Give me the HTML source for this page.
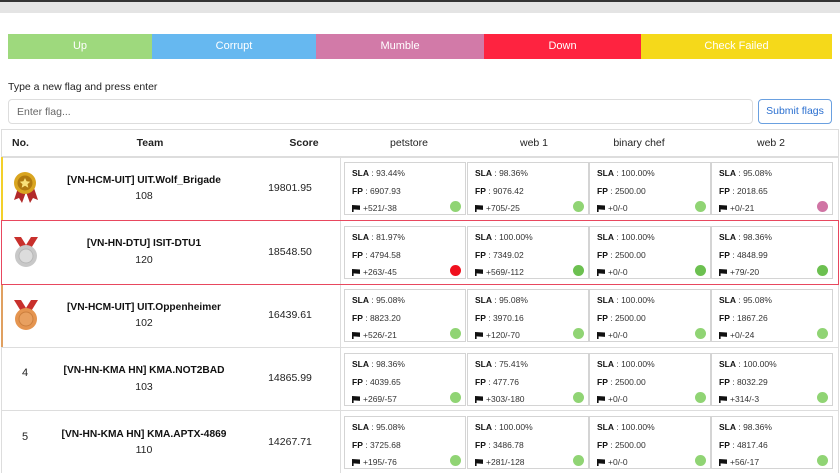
<!DOCTYPE html>
<html><head><meta charset="utf-8"><style>
*{margin:0;padding:0;box-sizing:border-box}
body{width:840px;height:473px;overflow:hidden;background:#fff;font-family:"Liberation Sans",Arial,sans-serif;position:relative;color:#222}
.a{position:absolute}
.seg{position:absolute;top:34px;height:25px;color:#fff;font-size:11px;text-align:center;line-height:25px}
.c{position:absolute;width:122px;height:53px;border:1px solid #d4d4d4;background:#fff;font-size:8.5px;color:#333}
.c b{color:#111}
.c div{position:absolute;left:7px}
.l1{top:5px}.l2{top:23px}.l3{top:40px}
.dot{position:absolute;right:4px;bottom:2px;width:11px;height:11px;border-radius:50%;background:#90d474}
.fl{display:inline-block;width:8px;height:7px;background:#111;vertical-align:-1px;margin-right:3px;clip-path:polygon(0 0,100% 8%,100% 70%,20% 62%,20% 100%,0 100%)}
.hl{position:absolute;left:1px;width:838px;height:1px;background:#ddd}
.team{position:absolute;left:34px;width:220px;text-align:center;font-size:10.2px;font-weight:bold;color:#111}
.num{position:absolute;left:34px;width:220px;text-align:center;font-size:10.5px}
.score{position:absolute;left:240px;width:100px;text-align:center;font-size:10.5px}
.no{position:absolute;left:15px;width:20px;text-align:center;font-size:11px}
.th{position:absolute;top:137px;font-size:10.5px;text-align:center}
</style></head><body>
<div class="a" style="left:0;top:0;width:840px;height:2px;background:#333"></div>
<div class="a" style="left:0;top:2px;width:840px;height:11px;background:#e4e4e4"></div>
<div class="seg" style="left:8px;width:144px;background:#9ed97d">Up</div>
<div class="seg" style="left:152px;width:164px;background:#66b8f0">Corrupt</div>
<div class="seg" style="left:316px;width:168px;background:#d27aa8">Mumble</div>
<div class="seg" style="left:484px;width:157px;background:#fe2340">Down</div>
<div class="seg" style="left:641px;width:191px;background:#f5d91a">Check Failed</div>
<div class="a" style="left:8px;top:81px;font-size:10.5px;color:#222">Type a new flag and press enter</div>
<div class="a" style="left:8px;top:99px;width:745px;height:25px;border:1px solid #ddd;border-radius:4px;font-size:10.5px;color:#666;padding:6px 8px">Enter flag...</div>
<div class="a" style="left:758px;top:99px;width:74px;height:25px;border:1px solid #6aa0e0;border-radius:4px;font-size:10.5px;color:#2a6fd0;text-align:center;line-height:23px">Submit flags</div>
<div class="a" style="left:1px;top:129px;width:838px;height:344px;border:1px solid #ddd;border-bottom:none"></div>
<div class="th" style="left:12px;font-weight:bold">No.</div>
<div class="th" style="left:100px;width:100px;font-weight:bold">Team</div>
<div class="th" style="left:254px;width:100px;font-weight:bold">Score</div>
<div class="th" style="left:359px;width:100px">petstore</div>
<div class="th" style="left:484px;width:100px">web 1</div>
<div class="th" style="left:589px;width:100px">binary chef</div>
<div class="th" style="left:721px;width:100px">web 2</div>
<div class="hl" style="top:156px;height:2px"></div>
<div class="hl" style="top:347px"></div>
<div class="hl" style="top:410px"></div>
<div class="a" style="left:340px;top:157px;width:1px;height:316px;background:#ddd"></div>
<div class="a" style="left:1px;top:157px;width:2px;height:63px;background:#f3d02a"></div>
<div class="a" style="left:1px;top:284px;width:2px;height:63px;background:#e0a060"></div>
<div class="a" style="left:1px;top:220px;width:838px;height:65px;border:1.5px solid #e8485e"></div>

<svg class="a" style="left:12px;top:170px" width="28" height="34" viewBox="0 0 28 34"><path d="M6 18 L2 30 L7 28 L10 33 L14 22Z M22 18 L26 30 L21 28 L18 33 L14 22Z" fill="#b22a2a"/><circle cx="13" cy="13" r="11" fill="#d9a520"/><circle cx="13" cy="13" r="7.5" fill="#b07a10"/><path d="M13 8 l1.6 3.3 3.6.4-2.7 2.4.8 3.6-3.3-1.9-3.3 1.9.8-3.6-2.7-2.4 3.6-.4z" fill="#f8e27a"/></svg>
<svg class="a" style="left:12px;top:236px" width="28" height="34" viewBox="0 0 28 34"><path d="M2 1 L9 1 L14 9 L19 1 L26 1 L18 14 L10 14Z" fill="#c8302c"/><circle cx="14" cy="20" r="11" fill="#c8c8c8"/><circle cx="14" cy="20" r="7" fill="#dcdcdc" stroke="#b8b8b8"/></svg>
<svg class="a" style="left:12px;top:299px" width="28" height="34" viewBox="0 0 28 34"><path d="M2 1 L9 1 L14 9 L19 1 L26 1 L18 14 L10 14Z" fill="#c8302c"/><circle cx="14" cy="20" r="11" fill="#e59550"/><circle cx="14" cy="20" r="7" fill="#e8a060" stroke="#cc7f3e"/></svg>
<div class="no" style="top:367px">4</div>
<div class="no" style="top:431px">5</div>

<div class="team" style="top:175px">[VN-HCM-UIT] UIT.Wolf_Brigade</div><div class="num" style="top:190px">108</div><div class="score" style="top:182px">19801.95</div>
<div class="team" style="top:238px">[VN-HN-DTU] ISIT-DTU1</div><div class="num" style="top:254px">120</div><div class="score" style="top:246px">18548.50</div>
<div class="team" style="top:302px">[VN-HCM-UIT] UIT.Oppenheimer</div><div class="num" style="top:317px">102</div><div class="score" style="top:309px">16439.61</div>
<div class="team" style="top:365px">[VN-HN-KMA HN] KMA.NOT2BAD</div><div class="num" style="top:381px">103</div><div class="score" style="top:372px">14865.99</div>
<div class="team" style="top:429px">[VN-HN-KMA HN] KMA.APTX-4869</div><div class="num" style="top:444px">110</div><div class="score" style="top:436px">14267.71</div>

<div class="c" style="left:344px;top:162px"><div class="l1"><b>SLA</b> : 93.44%</div><div class="l2"><b>FP</b> : 6907.93</div><div class="l3"><span class="fl"></span>+521/-38</div><span class="dot"></span></div>
<div class="c" style="left:467px;top:162px"><div class="l1"><b>SLA</b> : 98.36%</div><div class="l2"><b>FP</b> : 9076.42</div><div class="l3"><span class="fl"></span>+705/-25</div><span class="dot"></span></div>
<div class="c" style="left:589px;top:162px"><div class="l1"><b>SLA</b> : 100.00%</div><div class="l2"><b>FP</b> : 2500.00</div><div class="l3"><span class="fl"></span>+0/-0</div><span class="dot"></span></div>
<div class="c" style="left:711px;top:162px"><div class="l1"><b>SLA</b> : 95.08%</div><div class="l2"><b>FP</b> : 2018.65</div><div class="l3"><span class="fl"></span>+0/-21</div><span class="dot" style="background:#d074a4"></span></div>
<div class="c" style="left:344px;top:226px"><div class="l1"><b>SLA</b> : 81.97%</div><div class="l2"><b>FP</b> : 4794.58</div><div class="l3"><span class="fl"></span>+263/-45</div><span class="dot" style="background:#f0101e"></span></div>
<div class="c" style="left:467px;top:226px"><div class="l1"><b>SLA</b> : 100.00%</div><div class="l2"><b>FP</b> : 7349.02</div><div class="l3"><span class="fl"></span>+569/-112</div><span class="dot" style="background:#6cc050"></span></div>
<div class="c" style="left:589px;top:226px"><div class="l1"><b>SLA</b> : 100.00%</div><div class="l2"><b>FP</b> : 2500.00</div><div class="l3"><span class="fl"></span>+0/-0</div><span class="dot" style="background:#6cc050"></span></div>
<div class="c" style="left:711px;top:226px"><div class="l1"><b>SLA</b> : 98.36%</div><div class="l2"><b>FP</b> : 4848.99</div><div class="l3"><span class="fl"></span>+79/-20</div><span class="dot" style="background:#6cc050"></span></div>
<div class="c" style="left:344px;top:289px"><div class="l1"><b>SLA</b> : 95.08%</div><div class="l2"><b>FP</b> : 8823.20</div><div class="l3"><span class="fl"></span>+526/-21</div><span class="dot"></span></div>
<div class="c" style="left:467px;top:289px"><div class="l1"><b>SLA</b> : 95.08%</div><div class="l2"><b>FP</b> : 3970.16</div><div class="l3"><span class="fl"></span>+120/-70</div><span class="dot"></span></div>
<div class="c" style="left:589px;top:289px"><div class="l1"><b>SLA</b> : 100.00%</div><div class="l2"><b>FP</b> : 2500.00</div><div class="l3"><span class="fl"></span>+0/-0</div><span class="dot"></span></div>
<div class="c" style="left:711px;top:289px"><div class="l1"><b>SLA</b> : 95.08%</div><div class="l2"><b>FP</b> : 1867.26</div><div class="l3"><span class="fl"></span>+0/-24</div><span class="dot"></span></div>
<div class="c" style="left:344px;top:353px"><div class="l1"><b>SLA</b> : 98.36%</div><div class="l2"><b>FP</b> : 4039.65</div><div class="l3"><span class="fl"></span>+269/-57</div><span class="dot"></span></div>
<div class="c" style="left:467px;top:353px"><div class="l1"><b>SLA</b> : 75.41%</div><div class="l2"><b>FP</b> : 477.76</div><div class="l3"><span class="fl"></span>+303/-180</div><span class="dot"></span></div>
<div class="c" style="left:589px;top:353px"><div class="l1"><b>SLA</b> : 100.00%</div><div class="l2"><b>FP</b> : 2500.00</div><div class="l3"><span class="fl"></span>+0/-0</div><span class="dot"></span></div>
<div class="c" style="left:711px;top:353px"><div class="l1"><b>SLA</b> : 100.00%</div><div class="l2"><b>FP</b> : 8032.29</div><div class="l3"><span class="fl"></span>+314/-3</div><span class="dot"></span></div>
<div class="c" style="left:344px;top:416px"><div class="l1"><b>SLA</b> : 95.08%</div><div class="l2"><b>FP</b> : 3725.68</div><div class="l3"><span class="fl"></span>+195/-76</div><span class="dot"></span></div>
<div class="c" style="left:467px;top:416px"><div class="l1"><b>SLA</b> : 100.00%</div><div class="l2"><b>FP</b> : 3486.78</div><div class="l3"><span class="fl"></span>+281/-128</div><span class="dot"></span></div>
<div class="c" style="left:589px;top:416px"><div class="l1"><b>SLA</b> : 100.00%</div><div class="l2"><b>FP</b> : 2500.00</div><div class="l3"><span class="fl"></span>+0/-0</div><span class="dot"></span></div>
<div class="c" style="left:711px;top:416px"><div class="l1"><b>SLA</b> : 98.36%</div><div class="l2"><b>FP</b> : 4817.46</div><div class="l3"><span class="fl"></span>+56/-17</div><span class="dot"></span></div>
</body></html>
